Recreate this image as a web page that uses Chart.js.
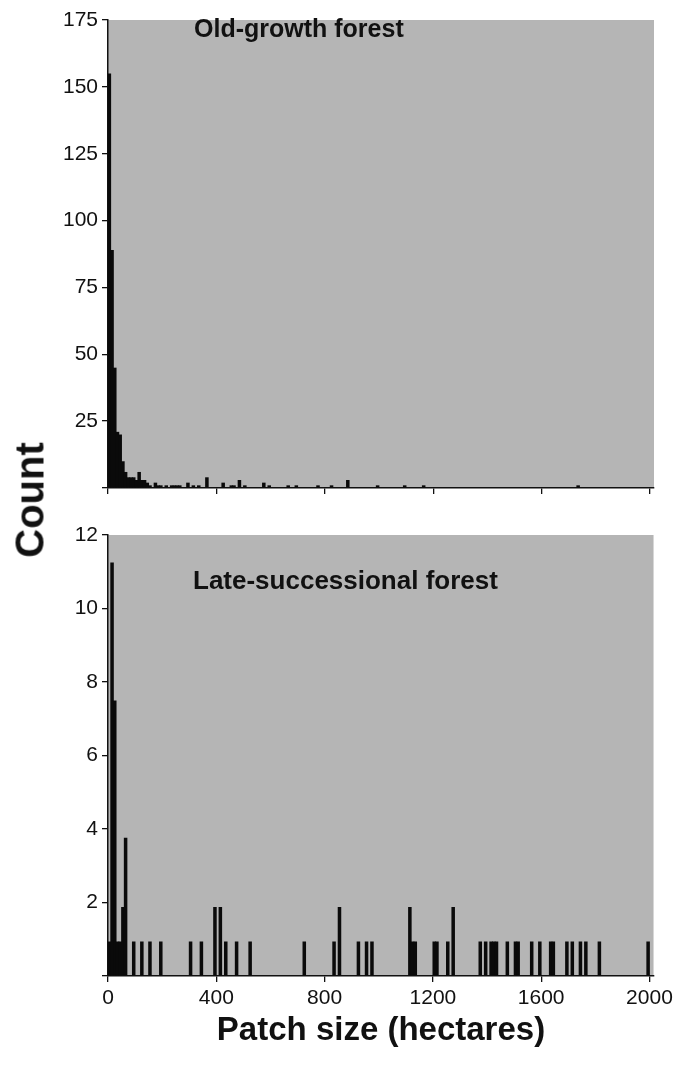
<!DOCTYPE html>
<html>
<head>
<meta charset="utf-8">
<script src="https://cdn.jsdelivr.net/npm/chart.js@4.4.1/dist/chart.umd.min.js"></script>
<style>
  html, body { margin: 0; padding: 0; background: #ffffff; }
  body { width: 677px; height: 1072px; position: relative; overflow: hidden; font-family: "Liberation Sans", Arial, sans-serif; color: #111; }
  .cv { position: absolute; left: 0; }
  .lbl { position: absolute; font-weight: bold; white-space: nowrap; color: #111; }
</style>
</head>
<body>
<div class="cv" style="top:0; width:677px; height:510px;"><canvas id="top"></canvas></div>
<div class="cv" style="top:510px; width:677px; height:506px;"><canvas id="bottom"></canvas></div>
<div class="lbl" style="left:194px; top:14px; font-size:25px;">Old-growth forest</div>
<div class="lbl" style="left:193px; top:565px; font-size:26px;">Late-successional forest</div>
<div class="lbl" style="left:30px; top:500px; font-size:40px; transform: translate(-50%,-50%) rotate(-90deg);">Count</div>
<div class="lbl" style="left:381px; top:1010px; font-size:33px; transform: translateX(-50%);">Patch size (hectares)</div>
<script>
// ---- data (bin start in hectares, 10-ha bins) ----
const oldBins   = [0,10,20,30,40,50,60,70,80,90,100,110,120,130,140,150,170,180,190,210,230,240,250,260,290,310,330,360,420,450,460,480,500,570,590,660,690,770,820,880,990,1090,1160,1730];
const oldCounts = [155,89,45,21,20,10,6,4,4,4,3,6,3,3,2,1,2,1,1,1,1,1,1,1,2,1,1,4,2,1,1,3,1,2,1,1,1,1,1,3,1,1,1,1];

const lateBins   = [0,10,20,30,40,50,60,90,120,150,190,300,340,390,410,430,470,520,720,830,850,920,950,970,1110,1120,1130,1200,1210,1250,1270,1370,1390,1410,1420,1430,1470,1500,1510,1560,1590,1630,1640,1690,1710,1740,1760,1810,1990];
const lateCounts = [0.94,11.25,7.5,0.94,0.94,1.88,3.76,0.94,0.94,0.94,0.94,0.94,0.94,1.88,1.88,0.94,0.94,0.94,0.94,0.94,1.88,0.94,0.94,0.94,1.88,0.94,0.94,0.94,0.94,0.94,1.88,0.94,0.94,0.94,0.94,0.94,0.94,0.94,0.94,0.94,0.94,0.94,0.94,0.94,0.94,0.94,0.94,0.94,0.94];

const binWidth = 10;
const xTicks = [0,400,800,1200,1600,2000];
const oldYTicks = [25,50,75,100,125,150,175];
const lateYTicks = [2,4,6,8,10,12];

Chart.defaults.font.family = '"Liberation Sans", Arial, sans-serif';
Chart.defaults.color = '#111';

const panelBg = {
  id: 'panelBg',
  beforeDraw(chart) {
    const a = chart.chartArea, ctx = chart.ctx;
    ctx.save();
    ctx.fillStyle = '#b5b5b5';
    ctx.fillRect(a.left, a.top, a.right - a.left, a.bottom - a.top);
    ctx.restore();
  }
};

function makeChart(id, bins, counts, yMax, yStep, showXLabels, padTop, xAxisH) {
  const data = bins.map((b, i) => ({ x: b + binWidth / 2, y: counts[i] }));
  return new Chart(document.getElementById(id), {
    type: 'bar',
    data: { datasets: [{ data, backgroundColor: '#0a0a0a', borderWidth: 0, barPercentage: 1.3, categoryPercentage: 1.0 }] },
    options: {
      responsive: true, maintainAspectRatio: false, animation: false,
      layout: { padding: { left: 0, right: 23, top: padTop, bottom: 0 } },
      plugins: { legend: { display: false }, tooltip: { enabled: false } },
      scales: {
        x: {
          type: 'linear', min: 0, max: 2015, offset: false,
          afterBuildTicks: (s) => { s.ticks = xTicks.map(v => ({ value: v })); },
          afterFit: (s) => { s.height = xAxisH; },
          ticks: { display: showXLabels, font: { size: 21 }, padding: 4, color: '#111', callback: (v) => String(v) },
          grid: { offset: false, drawOnChartArea: false, drawTicks: true, tickLength: 6, color: '#111', tickColor: '#111', lineWidth: 1.3 },
          border: { display: true, color: '#111', width: 1.5 }
        },
        y: {
          min: 0, max: yMax,
          afterBuildTicks: (s) => { s.ticks = [0].concat(yStep).map(v => ({ value: v })); },
          afterFit: (s) => { s.width = 108; },
          ticks: { font: { size: 21 }, padding: 4, color: '#111', callback: (v) => v === 0 ? '' : String(v) },
          grid: { drawOnChartArea: false, drawTicks: true, tickLength: 6, color: '#111', tickColor: '#111', lineWidth: 1.3 },
          border: { display: true, color: '#111', width: 1.5 }
        }
      }
    },
    plugins: [panelBg]
  });
}

makeChart('top', oldBins, oldCounts, 175, oldYTicks, false, 20, 22);
makeChart('bottom', lateBins, lateCounts, 12, lateYTicks, true, 25, 40);
</script>
</body>
</html>
